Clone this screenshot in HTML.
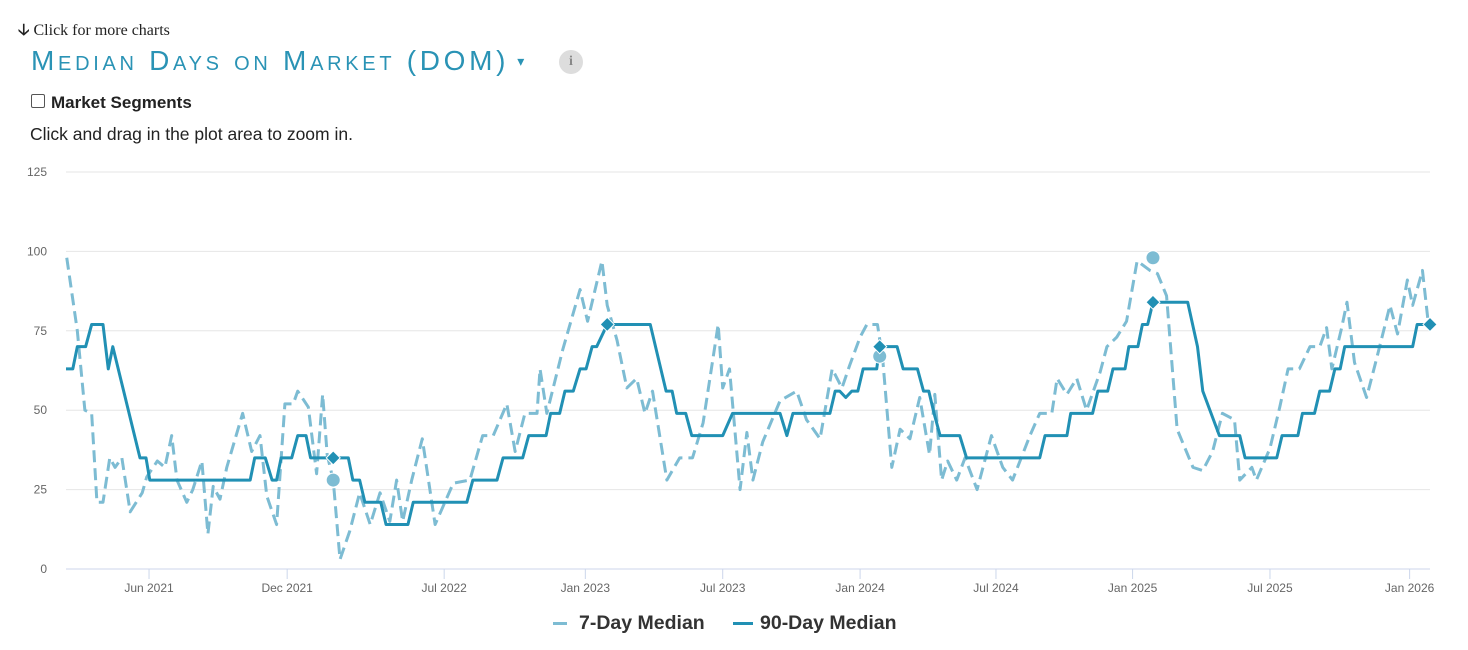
<!DOCTYPE html>
<html><head><meta charset="utf-8">
<style>
body{margin:0;width:1468px;height:650px;background:#fff;font-family:"Liberation Sans",sans-serif;overflow:hidden;position:relative}
.abs{position:absolute}
</style></head><body>
<div class="abs" style="left:18px;top:19px;font-family:'Liberation Serif',serif;font-size:16px;color:#222"><b>&#129123;</b> Click for more charts</div>
<div class="abs" style="left:31px;top:45px;font-size:28px;color:#2a93b5;font-variant:small-caps;letter-spacing:3.7px;white-space:nowrap">Median Days on Market (DOM)<span style="font-size:14px;letter-spacing:0;margin-left:8px;vertical-align:4px">&#9662;</span></div>
<div class="abs" style="left:559px;top:50px;width:24px;height:24px;border-radius:12px;background:#ddd;color:#888;font-weight:bold;font-size:14px;text-align:center;line-height:24px;font-family:'Liberation Serif',serif">i</div>
<div class="abs" style="left:31px;top:94px;width:12px;height:12px;border:1px solid #555;border-radius:2px"></div>
<div class="abs" style="left:51px;top:93px;font-size:17px;font-weight:bold;color:#222">Market Segments</div>
<div class="abs" style="left:30px;top:124px;font-size:17.5px;color:#222">Click and drag in the plot area to zoom in.</div>
<svg class="abs" style="left:0;top:0" width="1468" height="650" id="chart"></svg>
<script>
const yTicks=[0,25,50,75,100,125];
const xTickLabels=["Jun 2021","Dec 2021","Jul 2022","Jan 2023","Jul 2023","Jan 2024","Jul 2024","Jan 2025","Jul 2025","Jan 2026"];
const xTickDays=[110,293,501,688,870,1052,1232,1413,1595,1780];
const day90=[0,9,15,26,34,49,56,62,98,106,111,244,250,264,273,279,285,299,307,318,324,374,380,389,396,417,424,453,460,531,539,571,579,605,613,636,642,654,661,672,681,689,697,703,717,774,795,803,809,821,829,870,883,946,955,963,1012,1019,1025,1033,1041,1049,1056,1074,1078,1101,1109,1128,1136,1143,1150,1158,1184,1193,1290,1297,1326,1331,1360,1367,1380,1387,1403,1408,1420,1426,1433,1440,1486,1499,1506,1528,1555,1562,1604,1611,1632,1638,1654,1661,1674,1681,1688,1694,1784,1790,1807];
const val90=[63,63,70,70,77,77,63,70,35,35,28,28,35,35,28,28,35,35,42,42,35,35,28,28,21,21,14,14,21,21,28,28,35,35,42,42,49,49,56,56,63,63,70,70,77,77,56,56,49,49,42,42,49,49,42,49,49,56,56,54,56,56,63,63,70,70,63,63,56,56,49,42,42,35,35,42,42,49,49,56,56,63,63,70,70,77,77,84,84,70,56,42,42,35,35,42,42,49,49,56,56,63,63,70,70,77,77];
const day7=[1,15,25,34,41,49,58,65,74,85,101,107,121,131,140,147,160,168,180,188,195,204,213,234,246,257,266,279,290,301,307,321,332,340,346,354,363,376,389,403,416,429,438,446,458,472,489,513,535,552,566,584,595,608,624,628,637,658,681,691,710,717,730,743,756,767,777,796,813,830,844,864,870,879,893,902,910,923,946,968,981,999,1015,1028,1038,1052,1061,1075,1082,1094,1105,1118,1131,1144,1151,1160,1168,1180,1191,1207,1226,1241,1254,1277,1290,1306,1313,1326,1339,1352,1370,1379,1392,1405,1419,1436,1446,1458,1472,1493,1506,1519,1532,1548,1555,1571,1577,1595,1608,1619,1634,1648,1661,1670,1677,1690,1697,1707,1723,1736,1754,1764,1777,1784,1797,1804];
const val7=[98,75,50,49,21,21,35,32,35,18,24,29,34,32,42,28,21,25,34,11,26,22,32,49,37,42,23,14,52,52,56,51,30,55,36,28,3,12,24,14,24,15,28,15,28,41,14,27,28,42,42,52,37,49,49,63,49,69,88,78,97,83,72,57,60,49,56,28,35,35,46,77,57,63,25,43,28,40,53,56,47,41,63,57,64,73,77,77,66,32,44,41,54,36,55,28,34,28,35,25,42,32,28,42,49,49,60,55,60,50,62,70,73,78,97,94,93,86,44,32,31,37,49,47,28,32,28,38,51,63,63,70,70,76,63,76,84,65,54,66,83,74,91,83,94,79];
const circleDays=[354,1078,1440];
const circleVals=[28,67,98];
const diamondDays=[354,717,1078,1440,1807];
const diamondVals=[35,77,70,84,77];

const svg=document.getElementById('chart');
const NS='http://www.w3.org/2000/svg';
const X0=66,X1=1430,D1=1807,Y0=569,Y1=172;
function xs(d){return X0+d/D1*(X1-X0);}
function ys(v){return Y0-v/125*(Y0-Y1);}
function mk(tag,attrs){const e=document.createElementNS(NS,tag);for(const k in attrs)e.setAttribute(k,attrs[k]);svg.appendChild(e);return e;}
yTicks.forEach(t=>{
  const g=mk('line',{x1:X0,x2:X1,y1:ys(t),y2:ys(t),stroke:t===0?'#ccd6eb':'#e6e6e6','stroke-width':1});
  
  
  const tx=mk('text',{x:47,y:ys(t)+4,'text-anchor':'end','font-size':12,fill:'#666','font-family':'Liberation Sans, sans-serif'});
  tx.textContent=t;
  
  
});
xTickDays.forEach((d,i)=>{
  const l=mk('line',{x1:xs(d),x2:xs(d),y1:Y0,y2:Y0+10,stroke:'#ccd6eb'});
  
  
  const tx=mk('text',{x:xs(d),y:592,'text-anchor':'middle','font-size':12,fill:'#666','font-family':'Liberation Sans, sans-serif'});
  tx.textContent=xTickLabels[i];
  
  
});
const p7=mk('polyline',{points:day7.map((d,i)=>xs(d)+','+ys(val7[i])).join(' '),fill:'none',stroke:'#7dbcd3','stroke-width':3,'stroke-dasharray':'12,6','stroke-linejoin':'round'});


const p90=mk('polyline',{points:day90.map((d,i)=>xs(d)+','+ys(val90[i])).join(' '),fill:'none',stroke:'#2190b4','stroke-width':3,'stroke-linejoin':'round'});


circleDays.forEach((d,i)=>{
  const c=mk('circle',{cx:xs(d),cy:ys(circleVals[i]),r:7,fill:'#7dbcd3',stroke:'#fff','stroke-width':1});
  
  
});
diamondDays.forEach((d,i)=>{
  const x=xs(d),y=ys(diamondVals[i]);
  const c=mk('polygon',{points:`${x},${y-7} ${x+7},${y} ${x},${y+7} ${x-7},${y}`,fill:'#2190b4',stroke:'#fff','stroke-width':1});
  
  
});
</script>
<div class="abs" style="left:553px;top:612px;font-size:19.5px;font-weight:bold;color:#333;white-space:nowrap">
<span style="display:inline-block;width:14px;height:3px;background:#7dbcd3;vertical-align:middle;margin-right:12px"></span>7-Day Median</div>
<div class="abs" style="left:733px;top:612px;font-size:19.5px;font-weight:bold;color:#333;white-space:nowrap">
<span style="display:inline-block;width:20px;height:3px;background:#2190b4;vertical-align:middle;margin-right:7px"></span>90-Day Median</div>
</body></html>
